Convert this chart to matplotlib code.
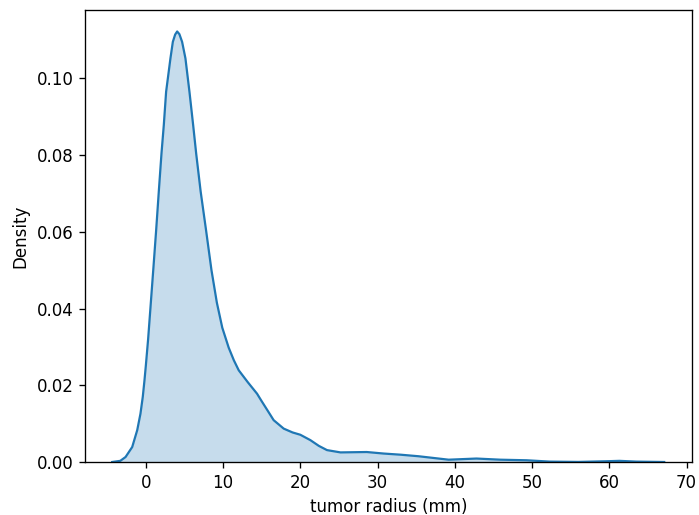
import matplotlib
matplotlib.use("Agg")
import matplotlib.pyplot as plt

# Density curve (tumor radius in mm vs density)
radius = [-4.35, -3.3, -2.62, -1.76, -1.11, -0.69, -0.39, -0.17, 0.0, 0.3,
          0.61, 1.0, 1.34, 1.7, 2.03, 2.33, 2.63, 3.19, 3.5, 3.8, 4.06, 4.35,
          4.7, 5.13, 5.65, 6.13, 6.52, 7.1, 7.8, 8.5, 9.2, 9.9, 10.73, 11.4,
          12.03, 13.2, 14.4, 14.92, 15.8, 16.55, 17.85, 19.0, 20.0, 21.3,
          22.4, 23.45, 25.2, 28.6, 30.8, 33.0, 35.3, 39.2, 42.8, 45.9, 49.3,
          52.3, 56.0, 59.7, 61.3, 63.5, 67.1]
density = [0.0, 0.0003, 0.0013, 0.0039, 0.0083, 0.0126, 0.017, 0.0213, 0.025,
           0.032, 0.0404, 0.051, 0.0604, 0.071, 0.0804, 0.0878, 0.0965, 0.1052,
           0.1095, 0.1114, 0.1122, 0.1115, 0.1095, 0.1052, 0.0965, 0.0878,
           0.0804, 0.0705, 0.0604, 0.0500, 0.0415, 0.0350, 0.0298, 0.0265,
           0.0239, 0.0208, 0.0178, 0.0161, 0.0133, 0.0109, 0.0087, 0.0077,
           0.0071, 0.0057, 0.0042, 0.0031, 0.0025, 0.0026, 0.0022, 0.0019,
           0.0015, 0.0006, 0.0009, 0.0006, 0.00045, 0.0001, 0.00002, 0.0002,
           0.0003, 0.0001, 0.0]

s = 1.2
plt.rcParams.update({
    'font.size': 10 * s,
    'axes.linewidth': 0.8 * s,
    'xtick.major.size': 3.5 * s, 'ytick.major.size': 3.5 * s,
    'xtick.major.width': 0.8 * s, 'ytick.major.width': 0.8 * s,
    'xtick.major.pad': 3.5 * s, 'ytick.major.pad': 3.5 * s,
    'axes.labelpad': 4.0 * s,
})
fig = plt.figure(figsize=(6.99, 5.15), dpi=100)
ax = fig.add_axes([85/699, 53/515, 607/699, 452/515])
ax.fill_between(radius, density, color='#1f77b4', alpha=0.25, linewidth=0)
ax.plot(radius, density, color='#1f77b4', linewidth=1.6)
ax.set_xlim(-7.87, 70.7)
ax.set_ylim(0, 0.1178)
ax.set_xticks([0, 10, 20, 30, 40, 50, 60, 70])
ax.set_yticks([0.0, 0.02, 0.04, 0.06, 0.08, 0.10])
ax.set_yticklabels(['0.00', '0.02', '0.04', '0.06', '0.08', '0.10'])
ax.set_xlabel('tumor radius (mm)')
ax.set_ylabel('Density')
fig.savefig('out.png', dpi=100)
